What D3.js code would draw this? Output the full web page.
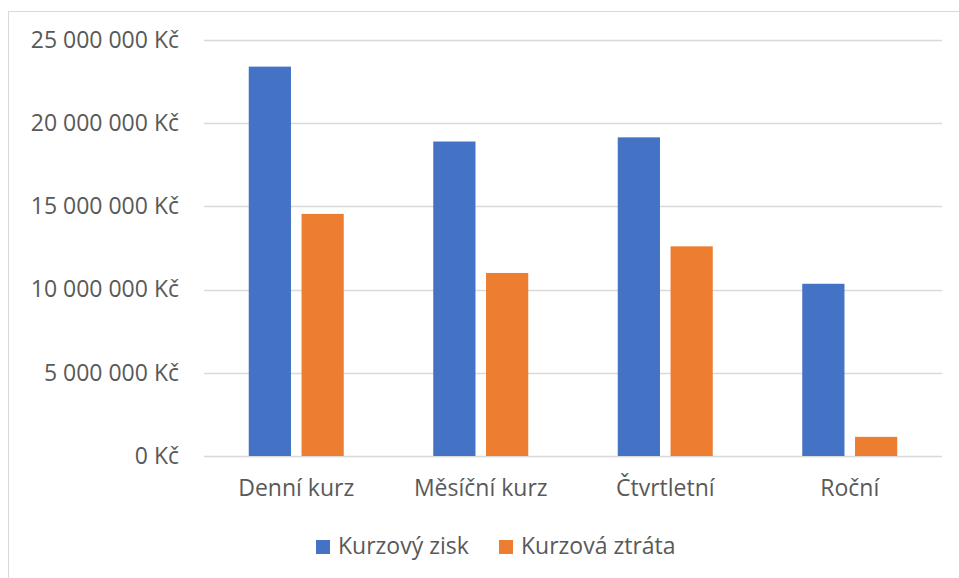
<!DOCTYPE html>
<html>
<head>
<meta charset="utf-8">
<script src="https://cdn.jsdelivr.net/npm/d3@7"></script>
<style>
  body { margin: 0; background: #fff; }
  text { font-family: "Open Sans", Lato, sans-serif; fill: #595959; }
</style>
</head>
<body>
<div id="chart"></div>
<script>
// data
const categories = ["Denní kurz", "Měsíční kurz", "Čtvrtletní", "Roční"];
const seriesNames = ["Kurzový zisk", "Kurzová ztráta"];
const zisk = [23400000, 18900000, 19150000, 10350000];
const ztrata = [14550000, 11000000, 12600000, 1150000];
const yTicks = [0, 5000000, 10000000, 15000000, 20000000, 25000000];
const colors = ["#4472c4", "#ed7d31"];

const width = 959, height = 578;
const margin = { top: 40, right: 17, bottom: 122, left: 204 };
const fontSize = 23;

const rows = categories.map((c, i) => ({ cat: c, values: [zisk[i], ztrata[i]] }));

const formatKc = d => d3.format(",")(d).replace(/,/g, " ") + " Kč";

const svg = d3.select("#chart").append("svg")
  .attr("width", width)
  .attr("height", height);

// chart frame
svg.append("rect")
  .attr("x", 8.5).attr("y", 11.5)
  .attr("width", width + 10).attr("height", height + 10)
  .attr("fill", "none")
  .attr("stroke", "#d9d9d9");

const x0 = d3.scaleBand()
  .domain(categories)
  .range([margin.left, width - margin.right])
  .padding(0);

const yScale = d3.scaleLinear()
  .domain([0, 25000000])
  .range([height - margin.bottom, margin.top]);

// grid lines
svg.append("g")
  .selectAll("line")
  .data(yTicks)
  .join("line")
  .attr("x1", margin.left)
  .attr("x2", width - margin.right)
  .attr("y1", d => Math.round(yScale(d)) + 0.5)
  .attr("y2", d => Math.round(yScale(d)) + 0.5)
  .attr("stroke", "#d9d9d9")
  .attr("stroke-width", 1.3);

// y axis labels
const yAxis = d3.axisLeft(yScale).tickValues(yTicks).tickFormat(formatKc).tickSize(0).tickPadding(25);
svg.append("g")
  .attr("transform", `translate(${margin.left}, 0)`)
  .call(yAxis)
  .call(g => g.select(".domain").remove())
  .selectAll("text")
  .attr("font-size", fontSize)
  .attr("font-family", null)
  .attr("fill", "#595959");

// inner band for the two series
const groupW = 95;
const x1 = d3.scaleBand()
  .domain(seriesNames)
  .range([-groupW / 2, groupW / 2])
  .paddingInner(0.2);

svg.append("g")
  .selectAll("g")
  .data(rows)
  .join("g")
  .attr("transform", d => `translate(${x0(d.cat) + x0.bandwidth() / 2}, 0)`)
  .selectAll("rect")
  .data(d => d.values.map((v, i) => ({ name: seriesNames[i], value: v, i })))
  .join("rect")
  .attr("x", d => x1(d.name))
  .attr("width", x1.bandwidth())
  .attr("y", d => yScale(d.value))
  .attr("height", d => yScale(0) - yScale(d.value))
  .attr("fill", d => colors[d.i]);

// x axis labels
const xAxis = d3.axisBottom(x0).tickSize(0).tickPadding(24);
svg.append("g")
  .attr("transform", `translate(0, ${height - margin.bottom})`)
  .call(xAxis)
  .call(g => g.select(".domain").remove())
  .selectAll("text")
  .attr("font-size", fontSize)
  .attr("font-family", null)
  .attr("fill", "#595959");

// legend
const legendItems = [
  { name: seriesNames[0], x: 316 },
  { name: seriesNames[1], x: 499 }
];
const legend = svg.append("g")
  .selectAll("g")
  .data(legendItems)
  .join("g")
  .attr("transform", d => `translate(${d.x}, 540)`);
legend.append("rect")
  .attr("width", 14).attr("height", 14)
  .attr("fill", (d, i) => colors[i]);
legend.append("text")
  .attr("x", 22).attr("y", 14)
  .attr("font-size", fontSize)
  .text(d => d.name);
</script>
</body>
</html>
